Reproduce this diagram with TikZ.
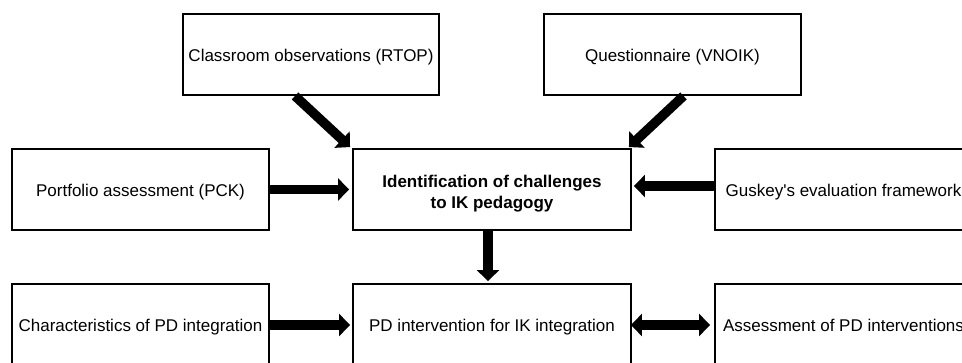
\documentclass[tikz,border=0pt]{standalone}
\usepackage{fontspec}
\setmainfont{Liberation Sans}
\usetikzlibrary{arrows.meta}
\begin{document}
\begin{tikzpicture}[x=1pt,y=-1pt,
  box/.style={draw=black, line width=1.9pt, inner sep=0pt, align=center,
    font=\fontsize{17}{21}\selectfont, minimum width=#1, minimum height=81pt,
    text height=16pt, text depth=2.8pt},
  box/.default=257pt,
  fatarrow/.style={line width=9.5pt, -{Triangle[width=22pt,length=11pt]}},
  dblarrow/.style={line width=9.5pt, {Triangle[width=22pt,length=11pt]}-{Triangle[width=22pt,length=11pt]}}
]
\useasboundingbox (0,0) rectangle (962,362);
\clip (0,0) rectangle (962,362);
\node[box=256pt] (class) at (311,54.5) {Classroom observations (RTOP)};
\node[box] (quest) at (672.5,54.5) {Questionnaire (VNOIK)};
\node[box] (port) at (140.5,189.5) {Portfolio assessment (PCK)};
\node[box=278pt, font=\fontsize{17}{21}\selectfont\bfseries, text height=40pt, text depth=2.8pt] (ident) at (492,189.5) {Identification of challenges\\to IK pedagogy};
\node[box] (gus) at (843.5,189.5) {Guskey\textquotesingle s evaluation framework};
\node[box, minimum height=82pt] (chars) at (140.5,325) {Characteristics of PD integration};
\node[box=278pt, minimum height=82pt] (pd) at (492,325) {PD intervention for IK integration};
\node[box, minimum height=82pt] (assess) at (843.5,325) {Assessment of PD interventions};

\draw[fatarrow] ([xshift=-16pt]class.south) -- ([xshift=-2pt,yshift=1pt]ident.north west);
\draw[fatarrow] ([xshift=11pt]quest.south) -- ([xshift=-3pt,yshift=1pt]ident.north east);
\draw[fatarrow] (port.east) -- ([xshift=-3pt]ident.west);
\draw[fatarrow] ([yshift=3.5pt]gus.west) -- ([xshift=2pt,yshift=3.5pt]ident.east);
\draw[fatarrow] ([xshift=-4pt]ident.south) -- ([xshift=-4pt,yshift=2pt]pd.north);
\draw[fatarrow] (chars.east) -- ([xshift=-2pt]pd.west);
\draw[dblarrow] ([xshift=-1pt]pd.east) -- ([xshift=-4pt]assess.west);
\end{tikzpicture}
\end{document}
